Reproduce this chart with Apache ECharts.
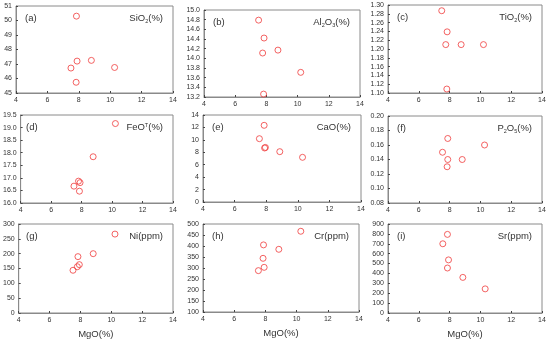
<!DOCTYPE html>
<html><head><meta charset="utf-8">
<script src="https://cdn.jsdelivr.net/npm/echarts@6/dist/echarts.min.js"></script>
<style>html,body{margin:0;padding:0;background:#fff}#c{width:550px;height:340px}</style>
</head><body><div id="c"></div>
<script>
// Data (MgO % on x for each panel)
const siMgO = [7.85, 7.89, 8.8, 7.5, 10.28, 7.83];
const siO2 = [50.3, 47.2, 47.25, 46.72, 46.76, 45.74];
const alMgO = [7.5, 7.85, 7.76, 8.74, 10.2, 7.82];
const al2O3 = [14.79, 14.42, 14.11, 14.17, 13.71, 13.26];
const tiMgO = [7.49, 7.84, 7.75, 8.75, 10.2, 7.82];
const tiO2 = [1.287, 1.239, 1.21, 1.21, 1.21, 1.109];
const feMgO = [10.22, 8.76, 7.8, 7.9, 7.5, 7.86];
const feOT = [19.16, 17.84, 16.87, 16.81, 16.67, 16.47];
const caMgO = [7.87, 7.57, 7.9, 7.95, 8.86, 10.3];
const caO = [12.34, 10.19, 8.69, 8.78, 8.1, 7.19];
const pMgO = [7.88, 7.54, 7.88, 7.84, 8.82, 10.27];
const p2O5 = [0.169, 0.15, 0.14, 0.13, 0.14, 0.16];
const niMgO = [10.24, 8.83, 7.84, 7.93, 7.8, 7.52];
const ni = [266, 200, 190, 163, 156, 144];
const crMgO = [10.27, 7.88, 8.86, 7.85, 7.92, 7.55];
const cr = [467, 405, 385, 344, 303, 288];
const srMgO = [7.86, 7.56, 7.93, 7.86, 8.86, 10.31];
const sr = [795, 700, 537, 455, 360, 244];

const panelLetters = ['(a)','(b)','(c)','(d)','(e)','(f)','(g)','(h)','(i)'];
const xMin = 4, xMax = 14, xStep = 2;
const yRanges = [
  [45, 51, 1], [13.2, 15.0, 0.2], [1.10, 1.30, 0.02],
  [16.0, 19.5, 0.5], [0, 14, 2], [0.08, 0.20, 0.02],
  [0, 300, 50], [100, 500, 50], [0, 900, 100]
];
const yDecimals = [0, 1, 2, 1, 0, 2, 0, 0, 0];
const xs = [siMgO, alMgO, tiMgO, feMgO, caMgO, pMgO, niMgO, crMgO, srMgO];
const ys = [siO2, al2O3, tiO2, feOT, caO, p2O5, ni, cr, sr];
const xName = 'MgO(%)';

// layout
const grids = [
  {left: 16, top: 6, width: 157, height: 87},
  {left: 204, top: 10, width: 156, height: 87},
  {left: 388, top: 5, width: 154, height: 88},
  {left: 17, top: 115, width: 156, height: 88},
  {left: 203, top: 115, width: 158, height: 87},
  {left: 388, top: 116, width: 154, height: 87},
  {left: 17, top: 224, width: 156, height: 89},
  {left: 203, top: 224, width: 156, height: 88},
  {left: 388, top: 224, width: 154, height: 89}
];
const font = 'Liberation Sans, Arial, sans-serif';
const lineCol = '#8a8a8a';
const txtCol = '#333';

const titleRich = {
  n: {fontSize: 9.5, fontWeight: 'normal', color: txtCol, fontFamily: font},
  sub: {fontSize: 5.5, fontWeight: 'normal', color: txtCol, fontFamily: font, padding: [5, 0, 0, 0]},
  sup: {fontSize: 5.5, fontWeight: 'normal', color: txtCol, fontFamily: font, padding: [0, 0, 5, 0]}
};
const titleTexts = [
  '{n|SiO}{sub|2}{n|(%)}', '{n|Al}{sub|2}{n|O}{sub|3}{n|(%)}', '{n|TiO}{sub|2}{n|(%)}',
  '{n|FeO}{sup|T}{n|(%)}', '{n|CaO(%)}', '{n|P}{sub|2}{n|O}{sub|5}{n|(%)}',
  '{n|Ni(ppm)}', '{n|Cr(ppm)}', '{n|Sr(ppm)}'
];

const option = {
  animation: false,
  backgroundColor: '#fff',
  grid: grids.map(g => Object.assign({show: true, borderColor: lineCol, borderWidth: 1, backgroundColor: 'transparent'}, g)),
  xAxis: grids.map((g, i) => ({
    gridIndex: i, type: 'value', min: xMin, max: xMax, interval: xStep,
    name: i >= 6 ? xName : '', nameLocation: 'middle', nameGap: 16,
    nameTextStyle: {fontSize: 9.5, color: txtCol, fontFamily: font},
    axisLine: {show: true, lineStyle: {color: lineCol, width: 1}},
    axisTick: {show: true, inside: true, length: 2, lineStyle: {color: '#444'}},
    axisLabel: {fontSize: 7, color: txtCol, fontFamily: font, margin: 4},
    splitLine: {show: false}
  })),
  yAxis: grids.map((g, i) => ({
    gridIndex: i, type: 'value', min: yRanges[i][0], max: yRanges[i][1], interval: yRanges[i][2],
    axisLine: {show: true, lineStyle: {color: lineCol, width: 1}},
    axisTick: {show: true, inside: true, length: 2, lineStyle: {color: '#444'}},
    axisLabel: {fontSize: 7, color: txtCol, fontFamily: font, margin: 4,
      formatter: v => v.toFixed(yDecimals[i])},
    splitLine: {show: false}
  })),
  title: grids.map((g, i) => ({
    text: titleTexts[i],
    right: 550 - (g.left + g.width) + 5,
    top: g.top + 2,
    textStyle: {fontWeight: 'normal', rich: titleRich}
  })).concat(grids.map((g, i) => ({
    text: panelLetters[i],
    left: g.left + 4,
    top: g.top + 2,
    textStyle: {fontSize: 9.5, fontWeight: 'normal', color: txtCol, fontFamily: font}
  }))),
  series: xs.map((xv, i) => ({
    type: 'scatter', xAxisIndex: i, yAxisIndex: i,
    data: xv.map((x, k) => [x, ys[i][k]]),
    symbol: 'circle', symbolSize: 6,
    itemStyle: {color: 'rgba(255,255,255,0)', borderColor: '#f03c3c', borderWidth: 1}
  }))
};
const chart = echarts.init(document.getElementById('c'), null, {renderer: 'canvas'});
chart.setOption(option);
</script></body></html>
